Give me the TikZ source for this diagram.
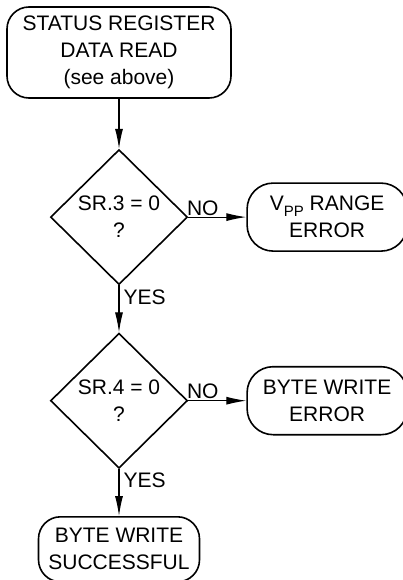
\documentclass[tikz,border=0pt]{standalone}
\usepackage{fontspec}
\setmainfont{Liberation Sans}
\usepackage{tikz}
\usetikzlibrary{shapes.geometric,arrows.meta,positioning}
\tikzstyle{block} = [rectangle, draw, line width=1.6pt, text centered,
    rounded corners=22pt, align=center, inner sep=0pt]
\tikzstyle{endblock} = [block, rounded corners=26pt, minimum width=160pt, minimum height=68pt]
\tikzstyle{decision} = [diamond, draw, line width=1.6pt, align=center,
    minimum width=137pt, minimum height=135pt, inner sep=0pt]
\tikzstyle{line} = [draw, line width=1.1pt, -{Latex[length=20pt,width=8pt]}]
\newcommand{\pp}{\raisebox{-6pt}[0pt][0pt]{\fontsize{15}{15}\selectfont PP}}

\begin{document}
\begin{tikzpicture}[font=\fontsize{21}{27}\selectfont]
    \useasboundingbox (0,0) rectangle (403pt,-580pt);
    % Place nodes
    \node [block, minimum width=224pt, minimum height=91pt] (read) at (119pt,-52.5pt)
        {STATUS REGISTER\\DATA READ\\(see above)};
    \node [decision, below=50pt of read] (sr3) {SR.3 = 0\\?};
    \node [endblock, right=58pt of sr3] (vpp) {V\pp\ RANGE\\ERROR};
    \node [decision, below=47pt of sr3] (sr4) {SR.4 = 0\\?};
    \node [endblock, right=58pt of sr4] (bwerr) {BYTE WRITE\\ERROR};
    \node [block, minimum width=161pt, minimum height=65pt, below=47pt of sr4] (bwok)
        {BYTE WRITE\\SUCCESSFUL};

  \path [line] (read.south -| sr3.north) -- (sr3);
  \path [line] (sr3) -- node[above, near start, inner sep=1pt] {NO} (vpp);
  \path [line] (sr3) -- node[right, near start, inner sep=4pt] {YES} (sr4);
  \path [line] (sr4) -- node[above, near start, inner sep=1pt] {NO} (bwerr);
  \path [line] (sr4) -- node[right, near start, inner sep=4pt] {YES} (bwok);
\end{tikzpicture}
\end{document}
